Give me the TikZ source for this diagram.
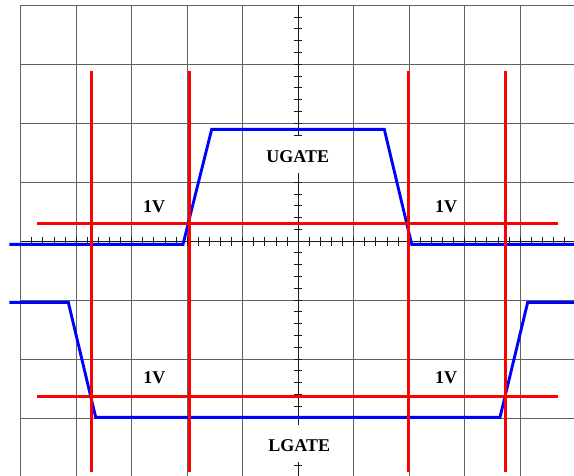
\documentclass[tikz,border=0pt]{standalone}
\usepackage{fontspec}
\setmainfont{Liberation Serif}
\begin{document}
\begin{tikzpicture}[x=1pt,y=-1pt,
  gridline/.style={draw=black!62, line width=1pt},
  axisline/.style={draw=black!90, line width=0.9pt},
  redline/.style={draw=red, line width=3pt},
  wave/.style={draw=blue, line width=2.9pt, line join=miter},
  vlabel/.style={font=\fontsize{18}{20}\selectfont\bfseries, inner sep=0pt},
  glabel/.style={font=\fontsize{18}{20}\selectfont\bfseries, fill=white, inner xsep=3pt, inner ysep=0pt,
                 text height=26.5pt, text depth=10pt, anchor=base}]
\useasboundingbox (0,0) rectangle (574,475);
\begin{scope}
  \clip (0,0) rectangle (574,475);
  \foreach \i in {0,...,10}
    \draw[gridline] ({20.7+55.5*\i},5.3) -- ({20.7+55.5*\i},477);
  \foreach \j in {0,...,8}
    \draw[gridline] (20.7,{5.3+58.96*\j}) -- (575.7,{5.3+58.96*\j});
  \draw[axisline] (298.2,5.3) -- (298.2,477);
  \draw[axisline] (20.7,241.1) -- (575.7,241.1);
  \foreach \k in {1,...,39}
    \draw[axisline] (294,{5.3+11.792*\k}) -- (302.4,{5.3+11.792*\k});
  \foreach \k in {1,...,49}
    \draw[axisline] ({20.7+11.1*\k},236.5) -- ({20.7+11.1*\k},245.7);
\end{scope}

% gate labels
\node[glabel] (ugate) at (297.7,162.6) {UGATE};
\node[glabel] (lgate) at (299.3,451.9) {LGATE};

% blue waveforms
\draw[wave] (9.3,244.3) -- (183,244.3) -- (211.7,129.3) -- (384.3,129.3) -- (411.7,244.3) -- (576,244.3);
\draw[wave] (9.3,302.3) -- (68.3,302.3) -- (95.7,417.3) -- (500,417.3) -- (527.7,302.3) -- (576,302.3);

% red cursors
\coordinate (h1a) at (37.3,223.3); \coordinate (h1b) at (557.7,223.3);
\coordinate (h2a) at (37.3,396.3); \coordinate (h2b) at (557.7,396.3);
\draw[redline] (h1a) -- (h1b);
\draw[redline] (h2a) -- (h2b);
\foreach \x in {91.3,189,408.3,505.7}
  \draw[redline] (\x,71.3) -- (\x,471.7);

% 1V labels
\node[vlabel] (v1) at (154,206.7) {1V};
\node[vlabel] (v2) at (446,206.7) {1V};
\node[vlabel] (v3) at (154.3,377.7) {1V};
\node[vlabel] (v4) at (446,377.7) {1V};
\end{tikzpicture}
\end{document}
